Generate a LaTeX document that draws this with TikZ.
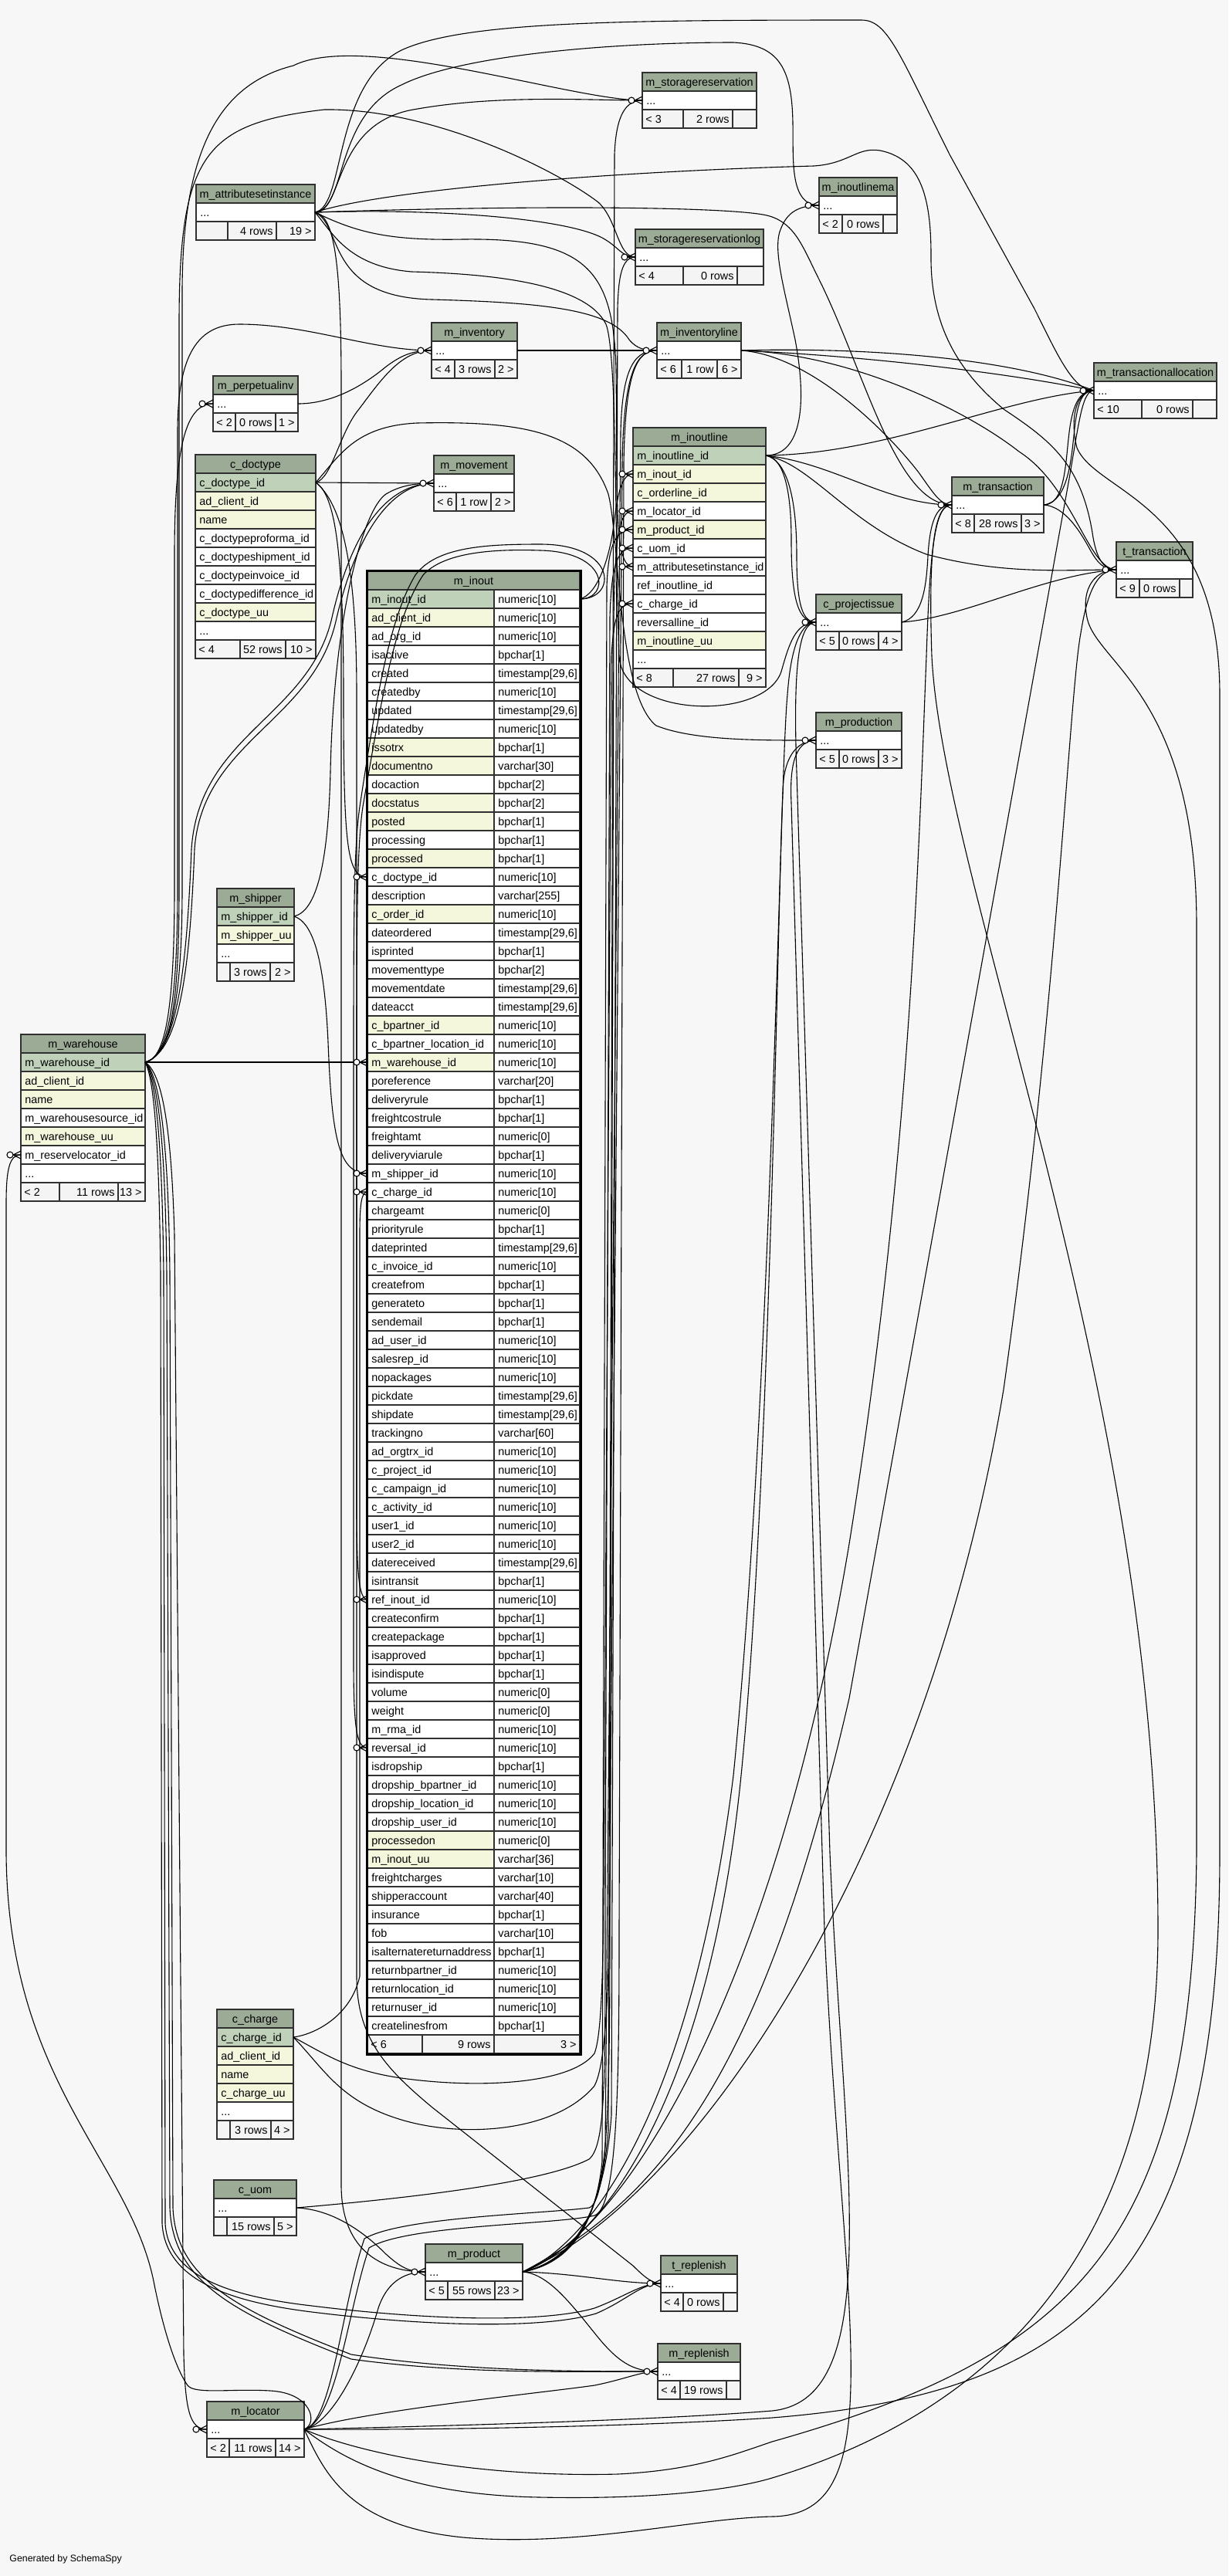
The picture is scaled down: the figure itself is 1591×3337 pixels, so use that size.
\documentclass[tikz,border=0pt]{standalone}
\usepackage{fontspec}
\setmainfont{Liberation Sans}
\definecolor{bgc}{HTML}{F7F7F7}
\definecolor{hdrc}{HTML}{9CAB96}
\definecolor{pkc}{HTML}{BFD1B9}
\definecolor{yelc}{HTML}{F4F7DB}
\definecolor{ftc}{HTML}{F4F4F4}
\definecolor{tblc}{HTML}{303030}
\tikzset{
  txt/.style={font=\fontsize{7.2}{8.6}\selectfont, inner sep=0pt, text=black},
  tblline/.style={draw=tblc, line width=0.6pt},
  fkline/.style={draw=black, line width=0.55pt},
  crow/.pic={
    \draw[fkline] (-10,0) -- (0,-5) (-10,0) -- (0,5) (-10,0) -- (0,0);
    \draw[fkline, fill=white] (-14,0) circle[radius=4];
  }
}
\newcommand{\tbhd}[5]{%
  \filldraw[tblline,fill=hdrc] (#2,#4) rectangle (#3,{#4+24});
  \node[txt,anchor=base] (#1) at ({(#2+#3)/2},{#4+17}) {#5};}
\newcommand{\tbrw}[6]{%
  \filldraw[tblline,fill=#2] (#3,#5) rectangle (#4,{#5+24});
  \node[txt,anchor=base west] (#1) at ({#3+5},{#5+17}) {#6};}
\newcommand{\tbft}[9]{%
  \filldraw[tblline,fill=ftc] (#2,#6) rectangle (#3,{#6+24});
  \filldraw[tblline,fill=ftc] (#3,#6) rectangle (#4,{#6+24});
  \filldraw[tblline,fill=ftc] (#4,#6) rectangle (#5,{#6+24});
  \node[txt,anchor=base west] (#1a) at ({#2+4},{#6+17}) {#7};
  \node[txt,anchor=base east] (#1b) at ({#4-4},{#6+17}) {#8};
  \node[txt,anchor=base east] (#1c) at ({#5-4},{#6+17}) {#9};}
\newcommand{\iorw}[5]{%
  \filldraw[tblline,fill=#2] (476,#3) rectangle (640,{#3+24});
  \filldraw[tblline,fill=white] (640,#3) rectangle (751,{#3+24});
  \node[txt,anchor=base west] (#1) at (481,{#3+17}) {#4};
  \node[txt,anchor=base west] (#1t) at (645,{#3+17}) {#5};}
\begin{document}
\begin{tikzpicture}[x=0.5pt,y=-0.5pt]
\useasboundingbox (0,0) rectangle (1591,3337);
\fill[bgc] (0,0) rectangle (1591,3337);

% ---------------- tables ----------------
\tbhd{srH}{832}{980}{94}{m\_storagereservation}
\tbrw{srB}{white}{832}{980}{118}{...}
\tbft{srF}{832}{885}{949}{980}{142}{< 3}{2 rows}{}

\tbhd{asiH}{254}{408}{239}{m\_attributesetinstance}
\tbrw{asiB}{white}{254}{408}{263}{...}
\tbft{asiF}{254}{295}{358}{408}{287}{}{4 rows}{19 >}

\tbhd{mlH}{1061}{1162}{230}{m\_inoutlinema}
\tbrw{mlB}{white}{1061}{1162}{254}{...}
\tbft{mlF}{1061}{1091}{1144}{1162}{278}{< 2}{0 rows}{}

\tbhd{srlH}{823}{989}{297}{m\_storagereservationlog}
\tbrw{srlB}{white}{823}{989}{321}{...}
\tbft{srlF}{823}{885}{955}{989}{345}{< 4}{0 rows}{}

\tbhd{invH}{559}{670}{418}{m\_inventory}
\tbrw{invB}{white}{559}{670}{442}{...}
\tbft{invF}{559}{589}{641}{670}{466}{< 4}{3 rows}{2 >}

\tbhd{invlH}{851}{960}{418}{m\_inventoryline}
\tbrw{invlB}{white}{851}{960}{442}{...}
\tbft{invlF}{851}{883}{929}{960}{466}{< 6}{1 row}{6 >}

\tbhd{piH}{276}{386}{487}{m\_perpetualinv}
\tbrw{piB}{white}{276}{386}{511}{...}
\tbft{piF}{276}{305}{357}{386}{535}{< 2}{0 rows}{1 >}

\tbhd{docH}{253}{409}{589}{c\_doctype}
\tbrw{doc1}{pkc}{253}{409}{613}{c\_doctype\_id}
\tbrw{doc2}{yelc}{253}{409}{637}{ad\_client\_id}
\tbrw{doc3}{yelc}{253}{409}{661}{name}
\tbrw{doc4}{white}{253}{409}{685}{c\_doctypeproforma\_id}
\tbrw{doc5}{white}{253}{409}{709}{c\_doctypeshipment\_id}
\tbrw{doc6}{white}{253}{409}{733}{c\_doctypeinvoice\_id}
\tbrw{doc7}{white}{253}{409}{757}{c\_doctypedifference\_id}
\tbrw{doc8}{yelc}{253}{409}{781}{c\_doctype\_uu}
\tbrw{doc9}{white}{253}{409}{805}{...}
\tbft{docF}{253}{311}{370}{409}{829}{< 4}{52 rows}{10 >}

\tbhd{movH}{562}{666}{590}{m\_movement}
\tbrw{movB}{white}{562}{666}{614}{...}
\tbft{movF}{562}{591}{636}{666}{638}{< 6}{1 row}{2 >}

\tbhd{iolH}{820}{992}{554}{m\_inoutline}
\tbrw{iol1}{pkc}{820}{992}{578}{m\_inoutline\_id}
\tbrw{iol2}{yelc}{820}{992}{602}{m\_inout\_id}
\tbrw{iol3}{yelc}{820}{992}{626}{c\_orderline\_id}
\tbrw{iol4}{white}{820}{992}{650}{m\_locator\_id}
\tbrw{iol5}{yelc}{820}{992}{674}{m\_product\_id}
\tbrw{iol6}{white}{820}{992}{698}{c\_uom\_id}
\tbrw{iol7}{white}{820}{992}{722}{m\_attributesetinstance\_id}
\tbrw{iol8}{white}{820}{992}{746}{ref\_inoutline\_id}
\tbrw{iol9}{white}{820}{992}{770}{c\_charge\_id}
\tbrw{iol10}{white}{820}{992}{794}{reversalline\_id}
\tbrw{iol11}{yelc}{820}{992}{818}{m\_inoutline\_uu}
\tbrw{iol12}{white}{820}{992}{842}{...}
\tbft{iolF}{820}{872}{957}{992}{866}{< 8}{27 rows}{9 >}

\tbhd{taH}{1417}{1576}{470}{m\_transactionallocation}
\tbrw{taB}{white}{1417}{1576}{494}{...}
\tbft{taF}{1417}{1479}{1545}{1576}{518}{< 10}{0 rows}{}

\tbhd{trH}{1233}{1352}{618}{m\_transaction}
\tbrw{trB}{white}{1233}{1352}{642}{...}
\tbft{trF}{1233}{1262}{1323}{1352}{666}{< 8}{28 rows}{3 >}

\tbhd{ttH}{1446}{1545}{702}{t\_transaction}
\tbrw{ttB}{white}{1446}{1545}{726}{...}
\tbft{ttF}{1446}{1476}{1528}{1545}{750}{< 9}{0 rows}{}

\tbhd{cpiH}{1057}{1168}{770}{c\_projectissue}
\tbrw{cpiB}{white}{1057}{1168}{794}{...}
\tbft{cpiF}{1057}{1087}{1138}{1168}{818}{< 5}{0 rows}{4 >}

\tbhd{prodH}{1057}{1168}{923}{m\_production}
\tbrw{prodB}{white}{1057}{1168}{947}{...}
\tbft{prodF}{1057}{1087}{1138}{1168}{971}{< 5}{0 rows}{3 >}

\tbhd{shH}{281}{381}{1151}{m\_shipper}
\tbrw{sh1}{pkc}{281}{381}{1175}{m\_shipper\_id}
\tbrw{sh2}{yelc}{281}{381}{1199}{m\_shipper\_uu}
\tbrw{sh3}{white}{281}{381}{1223}{...}
\tbft{shF}{281}{298}{350}{381}{1247}{}{3 rows}{2 >}

\tbhd{whH}{27}{188}{1340}{m\_warehouse}
\tbrw{wh1}{pkc}{27}{188}{1364}{m\_warehouse\_id}
\tbrw{wh2}{yelc}{27}{188}{1388}{ad\_client\_id}
\tbrw{wh3}{yelc}{27}{188}{1412}{name}
\tbrw{wh4}{white}{27}{188}{1436}{m\_warehousesource\_id}
\tbrw{wh5}{yelc}{27}{188}{1460}{m\_warehouse\_uu}
\tbrw{wh6}{white}{27}{188}{1484}{m\_reservelocator\_id}
\tbrw{wh7}{white}{27}{188}{1508}{...}
\tbft{whF}{27}{77}{153}{188}{1532}{< 2}{11 rows}{13 >}

\tbhd{chH}{281}{380}{2603}{c\_charge}
\tbrw{ch1}{pkc}{281}{380}{2627}{c\_charge\_id}
\tbrw{ch2}{yelc}{281}{380}{2651}{ad\_client\_id}
\tbrw{ch3}{yelc}{281}{380}{2675}{name}
\tbrw{ch4}{yelc}{281}{380}{2699}{c\_charge\_uu}
\tbrw{ch5}{white}{281}{380}{2723}{...}
\tbft{chF}{281}{298}{351}{380}{2747}{}{3 rows}{4 >}

\tbhd{uomH}{277}{384}{2824}{c\_uom}
\tbrw{uomB}{white}{277}{384}{2848}{...}
\tbft{uomF}{277}{294}{355}{384}{2872}{}{15 rows}{5 >}

\tbhd{prdH}{551}{677}{2907}{m\_product}
\tbrw{prdB}{white}{551}{677}{2931}{...}
\tbft{prdF}{551}{580}{641}{677}{2955}{< 5}{55 rows}{23 >}

\tbhd{trpH}{856}{955}{2922}{t\_replenish}
\tbrw{trpB}{white}{856}{955}{2946}{...}
\tbft{trpF}{856}{885}{937}{955}{2970}{< 4}{0 rows}{}

\tbhd{mrpH}{852}{959}{3036}{m\_replenish}
\tbrw{mrpB}{white}{852}{959}{3060}{...}
\tbft{mrpF}{852}{881}{941}{959}{3084}{< 4}{19 rows}{}

\tbhd{locH}{268}{394}{3111}{m\_locator}
\tbrw{locB}{white}{268}{394}{3135}{...}
\tbft{locF}{268}{297}{357}{394}{3159}{< 2}{11 rows}{14 >}

% m_inout (focus table)
\tbhd{ioH}{476}{751}{740}{m\_inout}
\foreach \nm/\ty/\cl [count=\i from 0, evaluate=\i as \yy using 764+24*\i] in {
 m\_inout\_id/numeric[10]/pkc,
 ad\_client\_id/numeric[10]/yelc,
 ad\_org\_id/numeric[10]/white,
 isactive/bpchar[1]/white,
 created/{timestamp[29,6]}/white,
 createdby/numeric[10]/white,
 updated/{timestamp[29,6]}/white,
 updatedby/numeric[10]/white,
 issotrx/bpchar[1]/yelc,
 documentno/varchar[30]/yelc,
 docaction/bpchar[2]/white,
 docstatus/bpchar[2]/yelc,
 posted/bpchar[1]/yelc,
 processing/bpchar[1]/white,
 processed/bpchar[1]/yelc,
 c\_doctype\_id/numeric[10]/white,
 description/varchar[255]/white,
 c\_order\_id/numeric[10]/yelc,
 dateordered/{timestamp[29,6]}/white,
 isprinted/bpchar[1]/white,
 movementtype/bpchar[2]/white,
 movementdate/{timestamp[29,6]}/white,
 dateacct/{timestamp[29,6]}/white,
 c\_bpartner\_id/numeric[10]/yelc,
 c\_bpartner\_location\_id/numeric[10]/white,
 m\_warehouse\_id/numeric[10]/yelc,
 poreference/varchar[20]/white,
 deliveryrule/bpchar[1]/white,
 freightcostrule/bpchar[1]/white,
 freightamt/numeric[0]/white,
 deliveryviarule/bpchar[1]/white,
 m\_shipper\_id/numeric[10]/white,
 c\_charge\_id/numeric[10]/white,
 chargeamt/numeric[0]/white,
 priorityrule/bpchar[1]/white,
 dateprinted/{timestamp[29,6]}/white,
 c\_invoice\_id/numeric[10]/white,
 createfrom/bpchar[1]/white,
 generateto/bpchar[1]/white,
 sendemail/bpchar[1]/white,
 ad\_user\_id/numeric[10]/white,
 salesrep\_id/numeric[10]/white,
 nopackages/numeric[10]/white,
 pickdate/{timestamp[29,6]}/white,
 shipdate/{timestamp[29,6]}/white,
 trackingno/varchar[60]/white,
 ad\_orgtrx\_id/numeric[10]/white,
 c\_project\_id/numeric[10]/white,
 c\_campaign\_id/numeric[10]/white,
 c\_activity\_id/numeric[10]/white,
 user1\_id/numeric[10]/white,
 user2\_id/numeric[10]/white,
 datereceived/{timestamp[29,6]}/white,
 isintransit/bpchar[1]/white,
 ref\_inout\_id/numeric[10]/white,
 createconfirm/bpchar[1]/white,
 createpackage/bpchar[1]/white,
 isapproved/bpchar[1]/white,
 isindispute/bpchar[1]/white,
 volume/numeric[0]/white,
 weight/numeric[0]/white,
 m\_rma\_id/numeric[10]/white,
 reversal\_id/numeric[10]/white,
 isdropship/bpchar[1]/white,
 dropship\_bpartner\_id/numeric[10]/white,
 dropship\_location\_id/numeric[10]/white,
 dropship\_user\_id/numeric[10]/white,
 processedon/numeric[0]/yelc,
 m\_inout\_uu/varchar[36]/yelc,
 freightcharges/varchar[10]/white,
 shipperaccount/varchar[40]/white,
 insurance/bpchar[1]/white,
 fob/varchar[10]/white,
 isalternatereturnaddress/bpchar[1]/white,
 returnbpartner\_id/numeric[10]/white,
 returnlocation\_id/numeric[10]/white,
 returnuser\_id/numeric[10]/white,
 createlinesfrom/bpchar[1]/white}
 {\iorw{io\i}{\cl}{\yy}{\nm}{\ty}}
\tbft{ioF}{476}{547}{640}{751}{2636}{< 6}{9 rows}{3 >}
\draw[black, line width=1.5pt] (475,739) rectangle (752,2661);

\node[txt,anchor=base west,font=\fontsize{6.2}{7}\selectfont] (gen) at (12,3318) {Generated by SchemaSpy};

% ---------------- anchors ----------------
\coordinate (asiR) at (408,275);
\coordinate (docR) at (409,625);
\coordinate (iolR) at (992,590);
\coordinate (ioR) at (751,776);
\coordinate (whR) at (188,1376);
\coordinate (shR) at (381,1187);
\coordinate (chR) at (380,2639);
\coordinate (uomR) at (384,2860);
\coordinate (prdR) at (677,2943);
\coordinate (locR) at (394,3147);
\coordinate (invR) at (670,454);
\coordinate (invlR) at (960,454);
\coordinate (trR) at (1352,654);
\coordinate (cpiR) at (1168,806);
\coordinate (piR) at (386,523);

\coordinate (srL) at (832,130);
\coordinate (mlL) at (1061,266);
\coordinate (srlL) at (823,333);
\coordinate (invL) at (559,454);
\coordinate (invlL) at (851,454);
\coordinate (piL) at (276,523);
\coordinate (movL) at (562,626);
\coordinate (taL) at (1417,506);
\coordinate (trL) at (1233,654);
\coordinate (ttL) at (1446,738);
\coordinate (cpiL) at (1057,806);
\coordinate (prodL) at (1057,959);
\coordinate (iolIo) at (820,614);
\coordinate (iolLoc) at (820,662);
\coordinate (iolPrd) at (820,686);
\coordinate (iolUom) at (820,710);
\coordinate (iolAsi) at (820,734);
\coordinate (iolCh) at (820,782);
\coordinate (ioDoc) at (476,1136);
\coordinate (ioWh) at (476,1376);
\coordinate (ioSh) at (476,1520);
\coordinate (ioCh) at (476,1544);
\coordinate (ioRef) at (476,2072);
\coordinate (ioRev) at (476,2264);
\coordinate (whRl) at (27,1496);
\coordinate (prdL) at (551,2943);
\coordinate (trpL) at (856,2958);
\coordinate (mrpL) at (852,3072);
\coordinate (locL) at (268,3147);

% ---------------- connectors ----------------
% m_attributesetinstance
\draw[fkline] (asiR) .. controls (445,275) and (430,165) .. (530,143) .. controls (640,122) and (760,130) .. (srL);
\draw[fkline] (asiR) .. controls (450,270) and (432,150) .. (520,110) .. controls (600,70) and (800,55) .. (950,55) .. controls (1010,58) and (1026,90) .. (1027,160) .. controls (1028,205) and (1022,266) .. (mlL);
\draw[fkline] (asiR) .. controls (560,270) and (730,282) .. (780,308) .. controls (802,320) and (805,333) .. (srlL);
\draw[fkline] (asiR) .. controls (445,292) and (420,385) .. (560,388) .. controls (700,392) and (790,400) .. (815,440) .. controls (825,452) and (835,454) .. (invlL);
\draw[fkline] (asiR) .. controls (460,300) and (500,312) .. (600,310) .. controls (760,308) and (795,350) .. (798,480) .. controls (800,650) and (795,734) .. (iolAsi);
\draw[fkline] (asiR) .. controls (700,265) and (960,268) .. (997,280) .. controls (1030,290) and (1040,320) .. (1060,360) .. controls (1120,480) and (1160,654) .. (trL);
\draw[fkline] (asiR) .. controls (448,268) and (430,110) .. (520,65) .. controls (600,28) and (800,26) .. (1116,26) .. controls (1150,26) and (1165,70) .. (1230,200) -- (1340,400) .. controls (1370,460) and (1390,506) .. (taL);
\draw[fkline] (asiR) .. controls (500,245) and (800,222) .. (1054,215) .. controls (1100,212) and (1110,190) .. (1140,195) .. controls (1190,205) and (1206,250) .. (1206,330) .. controls (1205,420) and (1240,480) .. (1300,530) .. controls (1360,570) and (1400,600) .. (1415,690) .. controls (1420,725) and (1430,738) .. (ttL);
\draw[fkline] (asiR) .. controls (430,300) and (450,345) .. (533,352) .. controls (650,355) and (760,370) .. (785,420) .. controls (800,460) and (796,700) .. (802,850) .. controls (806,930) and (990,935) .. (1012,870) .. controls (1022,835) and (1030,806) .. (cpiL);
\draw[fkline] (asiR) .. controls (430,280) and (442,320) .. (442,500) -- (442,2830) .. controls (442,2920) and (500,2943) .. (prdL);
% c_doctype
\draw[fkline] (docR) -- (movL);
\draw[fkline] (docR) .. controls (430,620) and (440,560) .. (465,530) .. controls (495,490) and (520,454) .. (invL);
\draw[fkline] (docR) .. controls (432,640) and (445,700) .. (445,900) .. controls (445,1100) and (450,1136) .. (ioDoc);
\draw[fkline] (docR) .. controls (440,590) and (460,552) .. (540,548) .. controls (680,545) and (760,560) .. (788,640) .. controls (803,700) and (800,900) .. (850,940) .. controls (900,960) and (990,959) .. (prodL);
\draw[fkline] (docR) .. controls (440,650) and (462,720) .. (462,900) -- (462,2560) .. controls (462,2640) and (500,2680) .. (560,2730) -- (820,2935) .. controls (835,2950) and (845,2958) .. (trpL);
% m_warehouse
\draw[fkline] (whR) -- (ioWh);
\draw[fkline] (whR) .. controls (212,1372) and (226,1320) .. (226,1150) -- (226,720) .. controls (226,580) and (240,523) .. (piL);
\draw[fkline] (whR) .. controls (216,1370) and (230,1310) .. (230,1150) -- (230,560) .. controls (230,470) and (250,420) .. (310,420) .. controls (400,420) and (480,454) .. (invL);
\draw[fkline] (whR) .. controls (220,1368) and (236,1300) .. (236,1150) -- (236,380) .. controls (236,200) and (280,110) .. (380,85) .. controls (470,40) and (740,130) .. (srL);
\draw[fkline] (whR) .. controls (222,1366) and (232,1300) .. (232,1150) -- (232,420) .. controls (232,200) and (265,160) .. (420,142) .. controls (560,140) and (720,220) .. (775,262) .. controls (800,285) and (800,333) .. (srlL);
\draw[fkline] (whR) .. controls (230,1365) and (242,1250) .. (248,1100) .. controls (258,950) and (400,930) .. (430,800) .. controls (455,690) and (500,626) .. (movL);
\draw[fkline] (whR) .. controls (234,1362) and (246,1250) .. (252,1100) .. controls (262,960) and (405,935) .. (435,805) .. controls (460,695) and (505,626) .. (movL);
\draw[fkline] (whR) .. controls (210,1390) and (222,1460) .. (226,1600) -- (238,3050) .. controls (240,3120) and (245,3147) .. (locL);
\draw[fkline] (whR) .. controls (206,1392) and (218,1470) .. (220,1650) -- (224,2860) .. controls (228,2950) and (300,2990) .. (455,3050) .. controls (600,3072) and (750,3072) .. (mrpL);
\draw[fkline] (whR) .. controls (204,1394) and (214,1475) .. (216,1650) -- (220,2860) .. controls (224,2955) and (300,2996) .. (455,3056) .. controls (600,3076) and (750,3072) .. (mrpL);
\draw[fkline] (whR) .. controls (202,1396) and (210,1480) .. (212,1650) -- (214,2880) .. controls (218,2950) and (300,2975) .. (404,2987) .. controls (550,3005) and (700,3010) .. (770,2990) .. controls (810,2975) and (830,2958) .. (trpL);
\draw[fkline] (whR) .. controls (200,1398) and (206,1485) .. (208,1650) -- (210,2880) .. controls (214,2955) and (300,2982) .. (404,2995) .. controls (550,3013) and (700,3018) .. (772,2997) .. controls (812,2980) and (830,2958) .. (trpL);
% m_locator
\draw[fkline] (locR) .. controls (412,3140) and (405,3100) .. (350,3097) .. controls (300,3094) and (252,3102) .. (243,3090) .. controls (222,3060) and (206,2990) .. (200,2960) .. controls (170,2800) and (10,2700) .. (8,2400) -- (8,1560) .. controls (8,1515) and (12,1496) .. (whRl);
\draw[fkline] (locR) .. controls (430,3140) and (470,3060) .. (490,2990) .. controls (500,2960) and (520,2943) .. (prdL);
\draw[fkline] (locR) .. controls (480,3122) and (700,3100) .. (770,3090) .. controls (810,3082) and (830,3072) .. (mrpL);
\draw[fkline] (locR) .. controls (430,3140) and (442,2990) .. (472,2900) .. controls (520,2872) and (700,2868) .. (763,2860) .. controls (788,2852) and (790,2700) .. (790,2500) -- (795,800) .. controls (797,700) and (800,662) .. (iolLoc);
\draw[fkline] (locR) .. controls (436,3136) and (450,2995) .. (478,2912) .. controls (525,2882) and (720,2882) .. (770,2870) .. controls (800,2860) and (802,2700) .. (802,2500) -- (808,600) .. controls (810,480) and (825,454) .. (invlL);
\draw[fkline] (locR) .. controls (600,3142) and (850,3135) .. (1000,3123) .. controls (1150,3108) and (1092,2800) .. (1075,2400) -- (1032,1000) .. controls (1027,860) and (1035,806) .. (cpiL);
\draw[fkline] (locR) .. controls (450,3172) and (600,3210) .. (800,3205) .. controls (900,3200) and (950,3180) .. (1000,3163) .. controls (1400,3050) and (1545,2900) .. (1550,2400) -- (1550,1200) .. controls (1550,900) and (1420,860) .. (1408,800) .. controls (1400,760) and (1420,738) .. (ttL);
\draw[fkline] (locR) .. controls (440,3182) and (520,3232) .. (700,3235) .. controls (850,3238) and (950,3225) .. (1000,3210) .. controls (1300,3120) and (1500,2900) .. (1500,2500) .. controls (1500,1800) and (1222,1150) .. (1207,850) .. controls (1202,700) and (1212,654) .. (trL);
\draw[fkline] (locR) .. controls (420,3202) and (450,3272) .. (600,3287) .. controls (750,3300) and (900,3262) .. (1000,3260) .. controls (1160,3258) and (1090,3000) .. (1068,2500) -- (1025,1040) .. controls (1022,980) and (1035,959) .. (prodL);
\draw[fkline] (locR) .. controls (600,3148) and (850,3142) .. (1000,3132) .. controls (1400,3100) and (1580,2950) .. (1580,2400) -- (1580,900) .. controls (1580,650) and (1420,640) .. (1395,580) .. controls (1385,540) and (1395,506) .. (taL);
% m_product
\draw[fkline] (prdR) .. controls (750,2945) and (800,2958) .. (trpL);
\draw[fkline] (prdR) .. controls (710,2945) and (740,2985) .. (770,3022) .. controls (800,3060) and (820,3072) .. (mrpL);
\draw[fkline] (prdR) .. controls (740,2932) and (772,2880) .. (780,2800) -- (786,760) .. controls (788,700) and (800,686) .. (iolPrd);
\draw[fkline] (prdR) .. controls (745,2930) and (776,2870) .. (784,2780) -- (804,560) .. controls (806,470) and (825,454) .. (invlL);
\draw[fkline] (prdR) .. controls (748,2928) and (780,2860) .. (788,2760) -- (796,200) .. controls (798,150) and (810,130) .. (srL);
\draw[fkline] (prdR) .. controls (752,2926) and (784,2850) .. (792,2740) -- (800,400) .. controls (801,360) and (805,333) .. (srlL);
\draw[fkline] (prdR) .. controls (860,2847) and (990,2680) .. (1100,2200) -- (1385,620) .. controls (1398,545) and (1402,506) .. (taL);
\draw[fkline] (prdR) .. controls (800,2900) and (1000,2600) .. (1100,2000) .. controls (1180,1500) and (1190,1100) .. (1200,850) .. controls (1205,700) and (1212,654) .. (trL);
\draw[fkline] (prdR) .. controls (900,2850) and (1200,2400) .. (1300,1800) .. controls (1370,1300) and (1385,900) .. (1400,820) .. controls (1408,770) and (1420,738) .. (ttL);
\draw[fkline] (prdR) .. controls (780,2900) and (900,2700) .. (950,2300) .. controls (1000,1800) and (1010,1000) .. (1020,900) .. controls (1025,830) and (1040,806) .. (cpiL);
\draw[fkline] (prdR) .. controls (790,2900) and (920,2700) .. (960,2300) .. controls (1000,1900) and (1008,1100) .. (1015,1010) .. controls (1020,970) and (1040,959) .. (prodL);
% c_uom
\draw[fkline] (uomR) .. controls (500,2850) and (700,2830) .. (763,2797) .. controls (784,2780) and (784,2700) .. (784,2500) -- (790,800) .. controls (792,730) and (800,710) .. (iolUom);
\draw[fkline] (uomR) .. controls (430,2862) and (470,2890) .. (500,2920) .. controls (520,2938) and (530,2943) .. (prdL);
% c_charge
\draw[fkline] (chR) .. controls (410,2635) and (455,2610) .. (466,2560) -- (466,1600) .. controls (466,1560) and (468,1544) .. (ioCh);
\draw[fkline] (chR) .. controls (420,2660) and (450,2682) .. (520,2692) .. controls (620,2706) and (740,2700) .. (770,2660) .. controls (782,2630) and (782,2500) .. (783,2300) -- (792,850) .. controls (795,800) and (800,782) .. (iolCh);
\draw[fkline] (chR) .. controls (420,2680) and (440,2722) .. (520,2746) .. controls (600,2770) and (720,2762) .. (770,2702) .. controls (790,2665) and (790,2500) .. (791,2300) -- (806,600) .. controls (808,480) and (825,454) .. (invlL);
% m_shipper
\draw[fkline] (shR) .. controls (405,1195) and (420,1240) .. (425,1350) .. controls (430,1480) and (440,1520) .. (ioSh);
\draw[fkline] (shR) .. controls (410,1180) and (425,1120) .. (428,1000) .. controls (432,800) and (470,660) .. (500,640) .. controls (520,628) and (540,626) .. (movL);
% m_inoutline
\draw[fkline] (iolR) .. controls (1040,590) and (1045,520) .. (1030,440) .. controls (1015,370) and (1000,320) .. (1012,295) .. controls (1020,275) and (1035,266) .. (mlL);
\draw[fkline] (iolR) .. controls (1150,588) and (1300,515) .. (taL);
\draw[fkline] (iolR) .. controls (1080,600) and (1150,654) .. (trL);
\draw[fkline] (iolR) .. controls (1050,600) and (1100,680) .. (1200,718) .. controls (1300,745) and (1380,738) .. (ttL);
\draw[fkline] (iolR) .. controls (1012,592) and (1025,625) .. (1025,700) .. controls (1025,780) and (1035,806) .. (cpiL);
\draw[fkline] (iolR) .. controls (1018,596) and (1032,640) .. (1032,720) .. controls (1032,785) and (1040,806) .. (cpiL);
% m_inventoryline
\draw[fkline] (invlR) .. controls (1100,450) and (1300,460) .. (taL);
\draw[fkline] (invlR) .. controls (1100,460) and (1290,480) .. (taL);
\draw[fkline] (invlR) .. controls (1050,460) and (1150,560) .. (1190,612) .. controls (1210,640) and (1218,654) .. (trL);
\draw[fkline] (invlR) .. controls (1100,458) and (1250,530) .. (1320,585) .. controls (1390,630) and (1410,738) .. (ttL);
% m_transaction
\draw[fkline] (trR) .. controls (1380,654) and (1380,600) .. (1385,560) .. controls (1390,520) and (1400,506) .. (taL);
\draw[fkline] (trR) .. controls (1385,650) and (1388,590) .. (1392,555) .. controls (1396,520) and (1402,506) .. (taL);
\draw[fkline] (trR) .. controls (1380,656) and (1400,690) .. (1412,712) .. controls (1422,730) and (1430,738) .. (ttL);
% c_projectissue
\draw[fkline] (cpiR) .. controls (1195,800) and (1200,760) .. (1202,720) .. controls (1205,670) and (1215,654) .. (trL);
\draw[fkline] (cpiR) .. controls (1250,800) and (1350,745) .. (ttL);
% m_inventory, m_perpetualinv
\draw[fkline] (invR) -- (invlL);
\draw[fkline] (piR) .. controls (430,523) and (470,500) .. (500,475) .. controls (520,460) and (535,454) .. (invL);
% m_inout
\draw[fkline] (ioR) .. controls (775,770) and (790,720) .. (795,680) .. controls (800,640) and (805,614) .. (iolIo);
\draw[fkline] (ioR) .. controls (790,776) and (790,715) .. (700,713) .. controls (640,711) and (575,715) .. (548,745) .. controls (512,800) and (495,900) .. (470,1045) .. controls (462,1100) and (462,1200) .. (462,1400) -- (462,1950) .. controls (462,2040) and (465,2072) .. (ioRef);
\draw[fkline] (ioR) .. controls (800,776) and (800,705) .. (700,705) .. controls (630,705) and (565,708) .. (538,745) .. controls (505,800) and (488,900) .. (466,1045) .. controls (458,1100) and (458,1200) .. (458,1400) -- (458,2150) .. controls (458,2240) and (462,2264) .. (ioRev);

% ---------------- crow's feet ----------------
\foreach \p in {srL,mlL,srlL,invL,invlL,piL,movL,taL,trL,ttL,cpiL,prodL,iolIo,iolLoc,iolPrd,iolUom,iolAsi,iolCh,ioDoc,ioWh,ioSh,ioCh,ioRef,ioRev,whRl,prdL,trpL,mrpL,locL}
  \pic at (\p) {crow};
\end{tikzpicture}
\end{document}
